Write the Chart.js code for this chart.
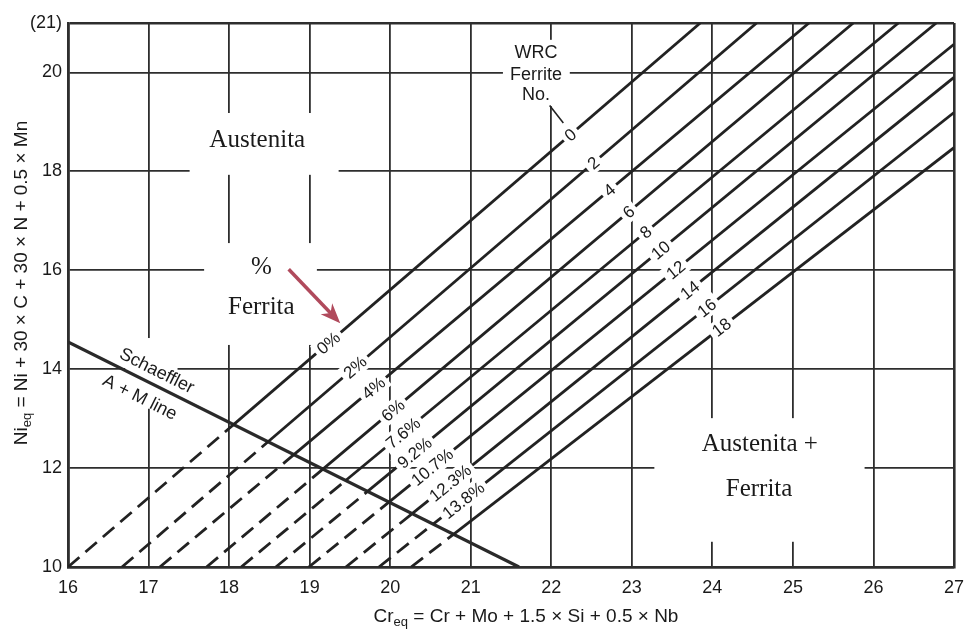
<!DOCTYPE html>
<html>
<head>
<meta charset="utf-8">
<script src="https://cdn.jsdelivr.net/npm/chart.js@4.4.1/dist/chart.umd.min.js"></script>
<style>
  html, body { margin: 0; padding: 0; background: #fff; }
  #wrap { width: 974px; height: 634px; position: relative; }
</style>
</head>
<body>
<div id="wrap"><canvas id="c" width="974" height="634"></canvas></div>
<script>
// WRC ferrite numbers and the matching Schaeffler ferrite percentages
const ferriteNumbers = [0, 2, 4, 6, 8, 10, 12, 14, 16, 18];
const ferritePercent = ['0%', '2%', '4%', '6%', '7.6%', '9.2%', '10.7%', '12.3%', '13.8%', ''];

// Lower end of each iso-ferrite line (on the Ni_eq = 10 edge)
const lineStartCr = [16.0, 16.67, 17.14, 17.72, 18.15, 18.58, 18.99, 19.45, 19.86, 20.26];
const lineStartNi = [10, 10, 10, 10, 10, 10, 10, 10, 10, 10];
// Upper end of each iso-ferrite line (top or right edge)
const lineEndCr = [23.85, 24.55, 25.2, 25.75, 26.31, 26.78, 27, 27, 27, 27];
const lineEndNi = [21, 21, 21, 21, 21, 21, 20.57, 19.9, 19.19, 18.48];

// Schaeffler A + M line
const schaefflerCr = [16, 21.6];
const schaefflerNi = [14.55, 10];

// Axis ticks
const crTicks = [16, 17, 18, 19, 20, 21, 22, 23, 24, 25, 26, 27];
const niTicks = [10, 12, 14, 16, 18, 20, 21];
const niTickLabels = ['10', '12', '14', '16', '18', '20', '(21)'];

// Where the number labels sit along each line (Ni_eq value)
const fnLabelNi = [18.74, 18.17, 17.62, 17.18, 16.77, 16.41, 16.01, 15.60, 15.24, 14.85];
const pctLabelNi = [14.53, 14.04, 13.62, 13.17, 12.71, 12.31, 12.02, 11.70, 11.35];

const INK = '#222';
const SANS = '"Liberation Sans Narrow", "Arial Narrow", "Liberation Sans", Arial, sans-serif';
const SANS_REG = '"Liberation Sans", Arial, sans-serif';
const SERIF = '"Liberation Serif", "Times New Roman", serif';

// Point where an iso-ferrite line meets the Schaeffler line
function crossing(i) {
  const sx = lineStartCr[i], sy = lineStartNi[i];
  const d1x = lineEndCr[i] - sx, d1y = lineEndNi[i] - sy;
  const ax = schaefflerCr[0], ay = schaefflerNi[0];
  const d2x = schaefflerCr[1] - ax, d2y = schaefflerNi[1] - ay;
  const den = d1x * d2y - d1y * d2x;
  const t = ((ax - sx) * d2y - (ay - sy) * d2x) / den;
  return { x: sx + t * d1x, y: sy + t * d1y, t };
}

function crOnLine(i, ni) {
  return lineStartCr[i] + (ni - lineStartNi[i]) * (lineEndCr[i] - lineStartCr[i]) / (lineEndNi[i] - lineStartNi[i]);
}

// Iso-ferrite lines: dashed below the Schaeffler line, solid above
const isoSets = ferriteNumbers.map((fn, i) => {
  const c = crossing(i);
  const pts = [{ x: lineStartCr[i], y: lineStartNi[i] }];
  const split = c.t > 0 && c.t < 1;
  if (split) pts.push({ x: c.x, y: c.y });
  pts.push({ x: lineEndCr[i], y: lineEndNi[i] });
  return {
    label: 'FN ' + fn,
    data: pts,
    showLine: true,
    borderColor: INK,
    borderWidth: 2.8,
    pointRadius: 0,
    fill: false,
    tension: 0,
    segment: {
      borderDash: ctx => (split && ctx.p0DataIndex === 0) ? [15, 8] : undefined
    }
  };
});

const schaefflerSet = {
  label: 'Schaeffler A + M line',
  data: schaefflerCr.map((x, k) => ({ x, y: schaefflerNi[k] })),
  showLine: true,
  borderColor: '#2a2a2a',
  borderWidth: 3.2,
  pointRadius: 0,
  fill: false
};

// Grid segments left open around the region labels (Cr_eq / Ni_eq ranges)
const gridGaps = [
  { cr: [17.51, 19.36], ni: [17.93, 19.18] },
  { cr: [17.69, 19.09], ni: [14.49, 16.55] },
  { cr: [16.71, 17.36], ni: [13.90, 14.15] },
  { cr: [16.96, 17.11], ni: [13.20, 14.63] },
  { cr: [21.40, 22.23], ni: [19.32, 20.66] },
  { cr: [23.28, 25.89], ni: [10.51, 13.01] }
];

function drawRich(ctx, parts, size) {
  // parts: [text, isSubscript]
  let total = 0;
  const widths = parts.map(([t, sub]) => {
    ctx.font = (sub ? Math.round(size * 0.68) : size) + 'px ' + SANS_REG;
    const w = ctx.measureText(t).width;
    total += w;
    return w;
  });
  let x = -total / 2;
  parts.forEach(([t, sub], k) => {
    ctx.font = (sub ? Math.round(size * 0.68) : size) + 'px ' + SANS_REG;
    ctx.fillText(t, x, sub ? size * 0.3 : 0);
    x += widths[k];
  });
}

const diagramPlugin = {
  id: 'diagram',
  beforeDatasetsDraw(chart) {
    const { ctx, scales: { x, y } } = chart;
    ctx.save();
    ctx.fillStyle = '#fff';
    gridGaps.forEach(g => {
      const x0 = x.getPixelForValue(g.cr[0]), x1 = x.getPixelForValue(g.cr[1]);
      const y0 = y.getPixelForValue(g.ni[1]), y1 = y.getPixelForValue(g.ni[0]);
      ctx.fillRect(x0, y0, x1 - x0, y1 - y0);
    });
    ctx.restore();
  },
  afterDatasetsDraw(chart) {
    const { ctx, scales: { x, y }, chartArea: a } = chart;
    const X = v => x.getPixelForValue(v);
    const Y = v => y.getPixelForValue(v);

    const onLine = (i, ni, text, size) => {
      const cx = X(crOnLine(i, ni)), cy = Y(ni);
      const ang = Math.atan2(Y(lineEndNi[i]) - Y(lineStartNi[i]), X(lineEndCr[i]) - X(lineStartCr[i]));
      ctx.save();
      ctx.translate(cx, cy);
      ctx.rotate(ang);
      ctx.font = size + 'px ' + SANS_REG;
      const w = ctx.measureText(text).width;
      ctx.fillStyle = '#fff';
      ctx.fillRect(-w / 2 - 4, -size * 0.55, w + 8, size * 1.1);
      ctx.fillStyle = '#1a1a1a';
      ctx.textAlign = 'center';
      ctx.textBaseline = 'middle';
      ctx.fillText(text, 0, 1);
      ctx.restore();
    };

    ferriteNumbers.forEach((fn, i) => onLine(i, fnLabelNi[i], String(fn), 17));
    pctLabelNi.forEach((ni, i) => onLine(i, ni, ferritePercent[i], 17));

    ctx.save();
    ctx.fillStyle = '#1a1a1a';
    ctx.textAlign = 'center';
    ctx.textBaseline = 'middle';

    // Region names
    ctx.font = '25px ' + SERIF;
    ctx.fillText('Austenita', X(18.35), Y(18.63));
    ctx.fillText('%', X(18.40), Y(16.05));
    ctx.fillText('Ferrita', X(18.40), Y(15.24));
    ctx.fillText('Austenita +', X(24.59), Y(12.47));
    ctx.fillText('Ferrita', X(24.58), Y(11.56));

    // WRC Ferrite No. caption and its pointer
    ctx.font = '18px ' + SANS_REG;
    ctx.fillText('WRC', X(21.81), Y(20.39));
    ctx.fillText('Ferrite', X(21.81), Y(19.95));
    ctx.fillText('No.', X(21.81), Y(19.54));
    ctx.strokeStyle = INK;
    ctx.lineWidth = 1.6;
    ctx.beginPath();
    ctx.moveTo(X(21.98), Y(19.33));
    ctx.lineTo(X(22.15), Y(18.98));
    ctx.stroke();

    // Schaeffler line caption
    const sAng = Math.atan2(Y(schaefflerNi[1]) - Y(schaefflerNi[0]), X(schaefflerCr[1]) - X(schaefflerCr[0]));
    ctx.font = '18px ' + SANS_REG;
    [['Schaeffler', 17.10, 13.96], ['A + M line', 16.89, 13.42]].forEach(([t, cr, ni]) => {
      ctx.save();
      ctx.translate(X(cr), Y(ni));
      ctx.rotate(sAng);
      ctx.fillText(t, 0, 0);
      ctx.restore();
    });

    // Arrow pointing at the percentage labels
    const ax0 = X(18.74), ay0 = Y(16.02), ax1 = X(19.38), ay1 = Y(14.93);
    const aa = Math.atan2(ay1 - ay0, ax1 - ax0);
    ctx.strokeStyle = '#b04a5c';
    ctx.fillStyle = '#b04a5c';
    ctx.lineWidth = 3.5;
    ctx.beginPath();
    ctx.moveTo(ax0, ay0);
    ctx.lineTo(ax1 - 12 * Math.cos(aa), ay1 - 12 * Math.sin(aa));
    ctx.stroke();
    ctx.beginPath();
    ctx.moveTo(ax1, ay1);
    ctx.lineTo(ax1 - 20 * Math.cos(aa) + 8 * Math.sin(aa), ay1 - 20 * Math.sin(aa) - 8 * Math.cos(aa));
    ctx.lineTo(ax1 - 14 * Math.cos(aa), ay1 - 14 * Math.sin(aa));
    ctx.lineTo(ax1 - 20 * Math.cos(aa) - 8 * Math.sin(aa), ay1 - 20 * Math.sin(aa) + 8 * Math.cos(aa));
    ctx.closePath();
    ctx.fill();

    // Axis titles with subscripts
    ctx.fillStyle = '#1a1a1a';
    ctx.textAlign = 'left';
    ctx.textBaseline = 'middle';
    ctx.save();
    ctx.translate((a.left + a.right) / 2 + 15, a.bottom + 50);
    drawRich(ctx, [['Cr', false], ['eq', true], [' = Cr + Mo + 1.5 \u00d7 Si + 0.5 \u00d7 Nb', false]], 19);
    ctx.restore();
    ctx.save();
    ctx.translate(22, (a.top + a.bottom) / 2 - 12);
    ctx.rotate(-Math.PI / 2);
    drawRich(ctx, [['Ni', false], ['eq', true], [' = Ni + 30 \u00d7 C + 30 \u00d7 N + 0.5 \u00d7 Mn', false]], 19);
    ctx.restore();

    ctx.restore();
  }
};

const edgeWidth = (ctx, lo, hi) => (ctx.tick && (ctx.tick.value === lo || ctx.tick.value === hi)) ? 2.6 : 1.8;

new Chart(document.getElementById('c'), {
  type: 'scatter',
  data: { datasets: [...isoSets, schaefflerSet] },
  options: {
    responsive: false,
    animation: false,
    events: [],
    layout: { padding: { top: 23, right: 16, left: 0, bottom: 0 } },
    plugins: { legend: { display: false }, tooltip: { enabled: false }, title: { display: false } },
    scales: {
      x: {
        type: 'linear',
        min: 16, max: 27,
        afterBuildTicks: s => { s.ticks = crTicks.map(v => ({ value: v })); },
        afterFit: s => { s.height = 67; },
        grid: { color: '#2e2e2e', lineWidth: c => edgeWidth(c, 16, 27), drawTicks: false },
        border: { color: '#2e2e2e', width: 2.6 },
        ticks: { color: '#1a1a1a', padding: 10, font: { family: SANS, size: 18 } }
      },
      y: {
        type: 'linear',
        min: 10, max: 21,
        afterBuildTicks: s => { s.ticks = niTicks.map(v => ({ value: v })); },
        afterFit: s => { s.width = 68; },
        grid: { color: '#2e2e2e', lineWidth: c => edgeWidth(c, 10, 21), drawTicks: false },
        border: { color: '#2e2e2e', width: 2.6 },
        ticks: {
          color: '#1a1a1a', padding: 6, font: { family: SANS, size: 18 },
          callback: v => niTickLabels[niTicks.indexOf(v)]
        }
      }
    }
  },
  plugins: [diagramPlugin]
});
</script>
</body>
</html>
